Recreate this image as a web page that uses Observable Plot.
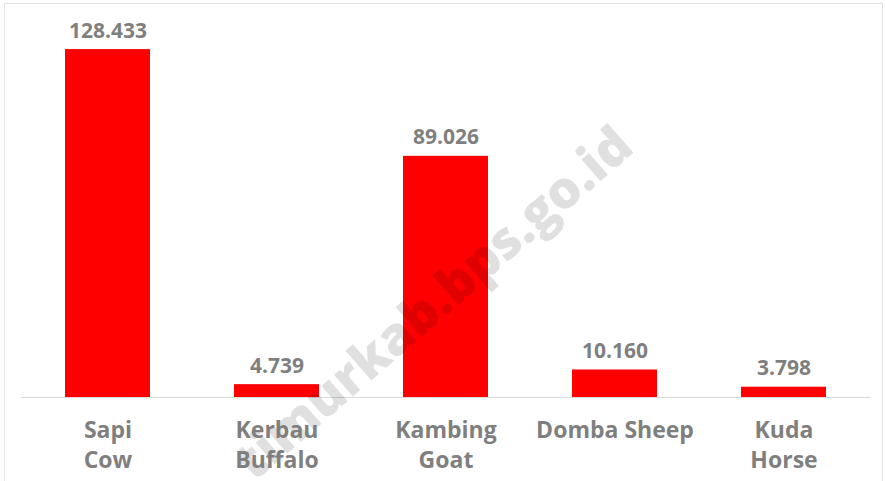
<!DOCTYPE html>
<html>
<head>
<meta charset="utf-8">
<script src="https://cdn.jsdelivr.net/npm/d3@7"></script>
<script src="https://cdn.jsdelivr.net/npm/@observablehq/plot@0.6"></script>
<style>
  html, body { margin: 0; padding: 0; background: #fff; }
  #wrap { position: relative; width: 885px; height: 481px; overflow: hidden; }
  #border { position: absolute; left: 4px; top: 3px; width: 877px; height: 490px; border: 1px solid #dfe3ea; pointer-events: none; }
</style>
</head>
<body>
<div id="wrap"><div id="chart"></div><div id="border"></div></div>
<script>
const categories = ["Sapi\nCow", "Kerbau\nBuffalo", "Kambing\nGoat", "Domba Sheep", "Kuda\nHorse"];
const values = [128.433, 4.739, 89.026, 10.160, 3.798];
const valueLabels = ["128.433", "4.739", "89.026", "10.160", "3.798"];
const watermark = "timurkab.bps.go.id";

const data = categories.map((c, i) => ({cat: c, value: values[i], label: valueLabels[i]}));

const chart = Plot.plot({
  width: 885,
  height: 481,
  marginLeft: 21,
  marginRight: 15,
  marginTop: 10,
  marginBottom: 84,
  style: {fontFamily: "'Open Sans', sans-serif", background: "transparent"},
  x: {domain: categories, paddingInner: 0.5, paddingOuter: 0.25, axis: null},
  y: {domain: [0, 142.86], axis: null},
  marks: [
    Plot.barY(data, {x: "cat", y: "value", fill: "#ff0000"}),
    Plot.ruleY([0], {stroke: "#d9d9d9", strokeWidth: 1}),
    Plot.text([watermark], {frameAnchor: "middle", text: d => d, dx: -12, dy: 100,
      rotate: -41, fill: "#000", fillOpacity: 0.12, fontSize: 52, fontWeight: 800,
      fontFamily: "'Open Sans', sans-serif"}),
    Plot.text(data, {x: "cat", y: "value", text: "label", lineAnchor: "bottom", dy: -12,
      fill: "#7f7f7f", fontSize: 21, fontWeight: "bold"}),
    Plot.text(data, {x: "cat", y: 0, text: "cat", lineAnchor: "top", dy: 19, lineHeight: 1.3,
      fill: "#7f7f7f", fontSize: 23, fontWeight: "bold"})
  ]
});
document.getElementById("chart").append(chart);
</script>
</body>
</html>
